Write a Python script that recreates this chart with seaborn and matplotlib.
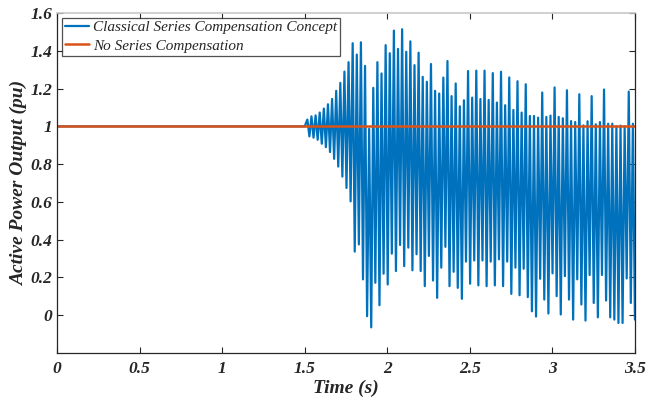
import numpy as np
import pandas as pd
import matplotlib
matplotlib.use('Agg')
import matplotlib.pyplot as plt
import seaborn as sns

# Peak / trough values of each oscillation cycle after 1.5 s
peak_vals = [1.036, 1.053, 1.058, 1.073, 1.094, 1.117, 1.145, 1.188, 1.23, 1.29,
             1.34, 1.44, 1.38, 1.445, 1.32, 0.987, 1.204, 1.34, 1.28, 1.43,
             1.387, 1.507, 1.41, 1.514, 1.395, 1.45, 1.324, 1.39, 1.262, 1.236,
             1.33, 1.188, 1.174, 1.258, 1.346, 1.16, 1.227, 1.106, 1.138, 1.293,
             1.152, 1.295, 1.145, 1.295, 1.14, 1.282, 1.126, 1.289, 1.112, 1.259,
             1.087, 1.239, 1.073, 1.223, 1.055, 1.055, 1.046, 1.179, 1.05, 1.057,
             1.206, 1.05, 1.043, 1.191, 1.028, 1.023, 1.17, 1.005, 1.027, 1.16,
             1.011, 1.023, 1.195, 1.014, 1.014, 1.0, 1.004, 1.0, 1.184, 1.014]
trough_vals = [0.947, 0.94, 0.929, 0.908, 0.89, 0.864, 0.828, 0.787, 0.734, 0.674,
               0.603, 0.337, 0.375, 0.19, -0.005, -0.064, 0.172, 0.053, 0.22, 0.163,
               0.326, 0.234, 0.372, 0.26, 0.358, 0.238, 0.323, 0.234, 0.154, 0.314,
               0.184, 0.092, 0.252, 0.362, 0.154, 0.23, 0.145, 0.087, 0.284, 0.167,
               0.29, 0.158, 0.29, 0.154, 0.284, 0.158, 0.296, 0.154, 0.284, 0.113,
               0.252, 0.106, 0.246, 0.096, 0.021, -0.007, 0.193, 0.083, 0.009, 0.222,
               0.101, 0.004, 0.207, 0.083, -0.023, 0.19, 0.057, -0.028, 0.213, 0.065,
               -0.011, 0.213, 0.078, -0.011, -0.023, -0.041, -0.041, 0.195, 0.065, -0.023]

t_start = 0.0
t_end = 3.5
t_fault = 1.5        # oscillation begins
t_first_peak = 1.516
period = 0.02495     # ~40 Hz oscillation
p_nominal = 1.0

x_ticks = [0, 0.5, 1, 1.5, 2, 2.5, 3, 3.5]
x_tick_labels = ['0', '0.5', '1', '1.5', '2', '2.5', '3', '3.5']
y_ticks = [0, 0.2, 0.4, 0.6, 0.8, 1.0, 1.2, 1.4, 1.6]
y_tick_labels = ['0', '0.2', '0.4', '0.6', '0.8', '1', '1.2', '1.4', '1.6']

# build the compensated series: flat, then alternating peak/trough
t_vals = [t_start, t_fault]
p_vals = [p_nominal, p_nominal]
for k, (pk, tr) in enumerate(zip(peak_vals, trough_vals)):
    tp = t_first_peak + k * period
    t_vals += [tp, tp + period / 2]
    p_vals += [pk, tr]
classical = pd.DataFrame({'t': t_vals, 'p': p_vals})
no_comp = pd.DataFrame({'t': [t_start, t_end], 'p': [p_nominal, p_nominal]})

sns.set_style('ticks')
plt.rcParams['font.family'] = ['Liberation Serif', 'DejaVu Serif']
plt.rcParams['xtick.direction'] = 'in'
plt.rcParams['ytick.direction'] = 'in'

fig = plt.figure(figsize=(6.46, 4.03), dpi=100)
ax = fig.add_axes([0.0882, 0.124, 0.8948, 0.8437])

sns.lineplot(data=classical, x='t', y='p', color='#0072BD', linewidth=1.6,
             estimator=None, ax=ax, label='Classical Series Compensation Concept')
sns.lineplot(data=no_comp, x='t', y='p', color='#D95319', linewidth=1.8,
             estimator=None, ax=ax, label='No Series Compensation')

ax.set_xlim(0, 3.5)
ax.set_ylim(-0.2, 1.6)
ax.set_xticks(x_ticks)
ax.set_xticklabels(x_tick_labels)
ax.set_yticks(y_ticks)
ax.set_yticklabels(y_tick_labels)
ax.tick_params(axis='both', which='both', top=True, right=True, length=4,
               width=0.8, color='#262626', labelsize=12.5)
ax.tick_params(axis='y', pad=3.5)
ax.tick_params(axis='x', pad=6)
for lab in ax.get_xticklabels() + ax.get_yticklabels():
    lab.set_fontweight('bold')
    lab.set_fontstyle('italic')
    lab.set_color('#262626')

for side in ['left', 'bottom', 'right']:
    ax.spines[side].set_color('#262626')
    ax.spines[side].set_linewidth(0.9)
ax.spines['top'].set_color('#c8c8c8')
ax.spines['top'].set_linewidth(1.2)

ax.set_xlabel('Time (s)', fontsize=14, fontweight='bold', fontstyle='italic', labelpad=1.5)
ax.set_ylabel('Active Power Output (pu)', fontsize=14, fontweight='bold',
              fontstyle='italic')
ax.yaxis.set_label_coords(-0.05, 0.5)

leg = ax.legend(loc='upper left', fancybox=False, frameon=True, borderaxespad=0.3,
                handlelength=1.6, handletextpad=0.25, borderpad=0.2, labelspacing=0.3,
                prop={'family': 'Liberation Serif', 'style': 'italic', 'size': 11})
leg.get_frame().set_edgecolor('#262626')
leg.get_frame().set_linewidth(0.9)

fig.savefig('out.png', dpi=100)
